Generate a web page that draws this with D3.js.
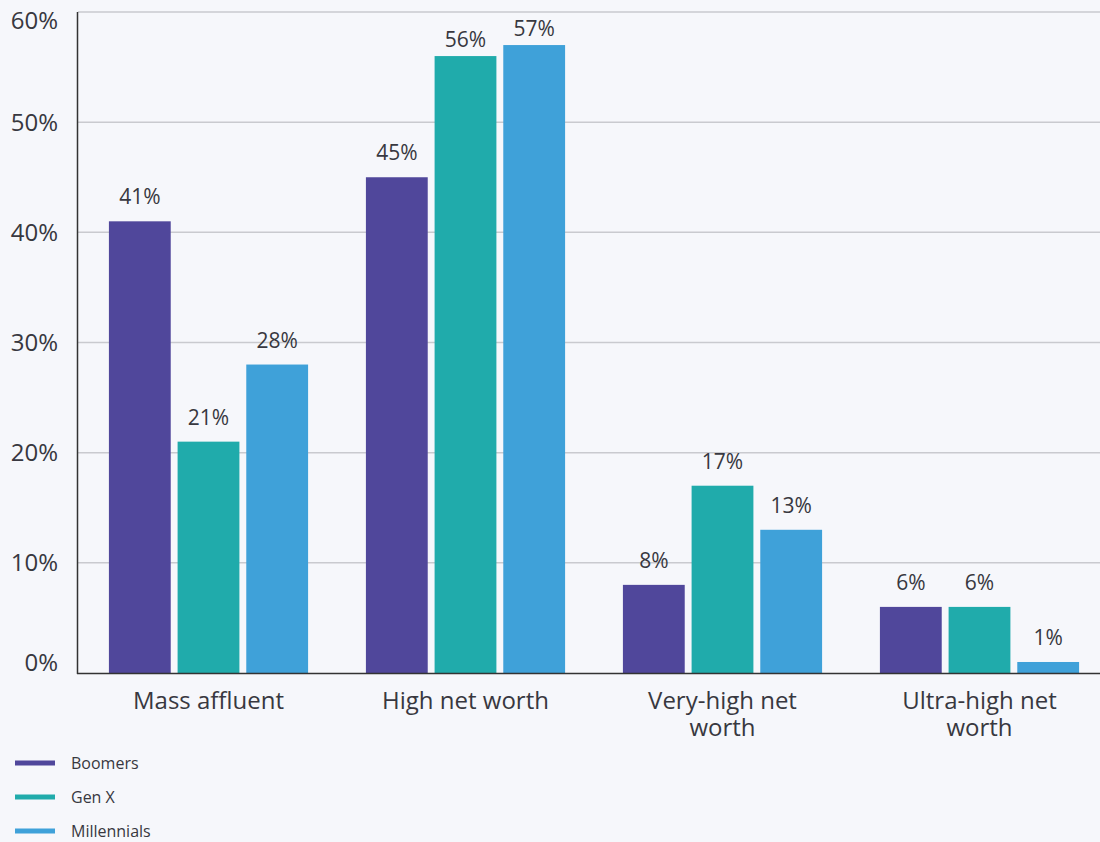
<!DOCTYPE html>
<html>
<head>
<meta charset="utf-8">
<script src="https://cdn.jsdelivr.net/npm/d3@7"></script>
<style>
  html, body { margin: 0; padding: 0; background: #f6f7fb; }
  svg { display: block; font-family: "Open Sans", Lato, sans-serif; }
</style>
</head>
<body>
<div id="chart"></div>
<script>
var categories = [["Mass affluent"], ["High net worth"], ["Very-high net", "worth"], ["Ultra-high net", "worth"]];
var seriesNames = ["Boomers", "Gen X", "Millennials"];
var seriesColors = ["#50479b", "#20abab", "#3fa1d9"];
var boomers = [41, 45, 8, 6];
var genX = [21, 56, 17, 6];
var millennials = [28, 57, 13, 1];
var yTicks = [0, 10, 20, 30, 40, 50, 60];

var width = 1100, height = 842;
var plotLeft = 80, plotRight = 1108, plotTop = 12, plotBottom = 673;

var svg = d3.select('#chart')
    .append('svg')
    .attr('width', width)
    .attr('height', height);

var x = d3.scaleBand()
    .domain(d3.range(categories.length))
    .range([plotLeft, plotRight])
    .paddingInner(0.225)
    .paddingOuter(0.1125);

var xs = d3.scaleBand()
    .domain(d3.range(seriesNames.length))
    .range([0, x.bandwidth()])
    .paddingInner(0.1);

var y = d3.scaleLinear()
    .domain([0, 60])
    .range([plotBottom, plotTop]);

// gridlines
svg.append('g').selectAll('line')
    .data(yTicks.filter(function (d) { return d > 0; }))
    .enter().append('line')
    .attr('x1', 78).attr('x2', width)
    .attr('y1', function (d) { return y(d); })
    .attr('y2', function (d) { return y(d); })
    .style('stroke', '#c9cacf')
    .style('stroke-width', 1.5);

// y labels
svg.append('g').selectAll('text')
    .data(yTicks)
    .enter().append('text')
    .attr('x', 58)
    .attr('y', function (d) { return Math.min(Math.max(y(d), 21), 663); })
    .attr('dy', '0.35em')
    .attr('text-anchor', 'end')
    .attr('font-size', 24)
    .attr('fill', '#383840')
    .text(function (d) { return d + '%'; });

var series = [boomers, genX, millennials];

var groups = svg.selectAll('.group')
    .data(categories)
    .enter().append('g')
    .attr('class', 'group')
    .attr('transform', function (d, i) { return 'translate(' + x(i) + ',0)'; });

groups.each(function (c, i) {
    var g = d3.select(this);
    var vals = series.map(function (s) { return s[i]; });
    g.selectAll('rect')
        .data(vals)
        .enter().append('rect')
        .attr('x', function (d, j) { return xs(j); })
        .attr('y', function (d) { return y(d); })
        .attr('width', xs.bandwidth())
        .attr('height', function (d) { return plotBottom - y(d); })
        .style('fill', function (d, j) { return seriesColors[j]; });
    // labels near the top sit closer to the bar so they stay inside
    g.selectAll('text.val')
        .data(vals)
        .enter().append('text')
        .attr('class', 'val')
        .attr('x', function (d, j) { return xs(j) + xs.bandwidth() / 2; })
        .attr('y', function (d) { return y(d) - (d > 52 ? 9 : 17); })
        .attr('text-anchor', 'middle')
        .attr('font-size', 21)
        .attr('fill', '#383840')
        .text(function (d) { return d + '%'; });
    c.forEach(function (line, k) {
        g.append('text')
            .attr('text-anchor', 'middle')
            .attr('font-size', 24)
            .attr('fill', '#383840')
            .attr('x', x.bandwidth() / 2)
            .attr('y', 709 + k * 27)
            .text(line);
    });
});

// axes lines
svg.append('line')
    .attr('x1', 77.5).attr('x2', 77.5)
    .attr('y1', plotTop).attr('y2', plotBottom + 1)
    .style('stroke', '#333').style('stroke-width', 1.5);
svg.append('line')
    .attr('x1', 77).attr('x2', width)
    .attr('y1', plotBottom + 0.5).attr('y2', plotBottom + 0.5)
    .style('stroke', '#333').style('stroke-width', 1.5);

// legend
var legend = svg.append('g').selectAll('g')
    .data(seriesNames)
    .enter().append('g')
    .attr('transform', function (d, i) { return 'translate(15,' + (763 + i * 34) + ')'; });
legend.append('line')
    .attr('x1', 0).attr('x2', 40)
    .style('stroke', function (d, i) { return seriesColors[i]; })
    .style('stroke-width', 5);
legend.append('text')
    .attr('x', 56)
    .attr('dy', '0.35em')
    .attr('font-size', 16)
    .attr('fill', '#383840')
    .text(function (d) { return d; });
</script>
</body>
</html>
